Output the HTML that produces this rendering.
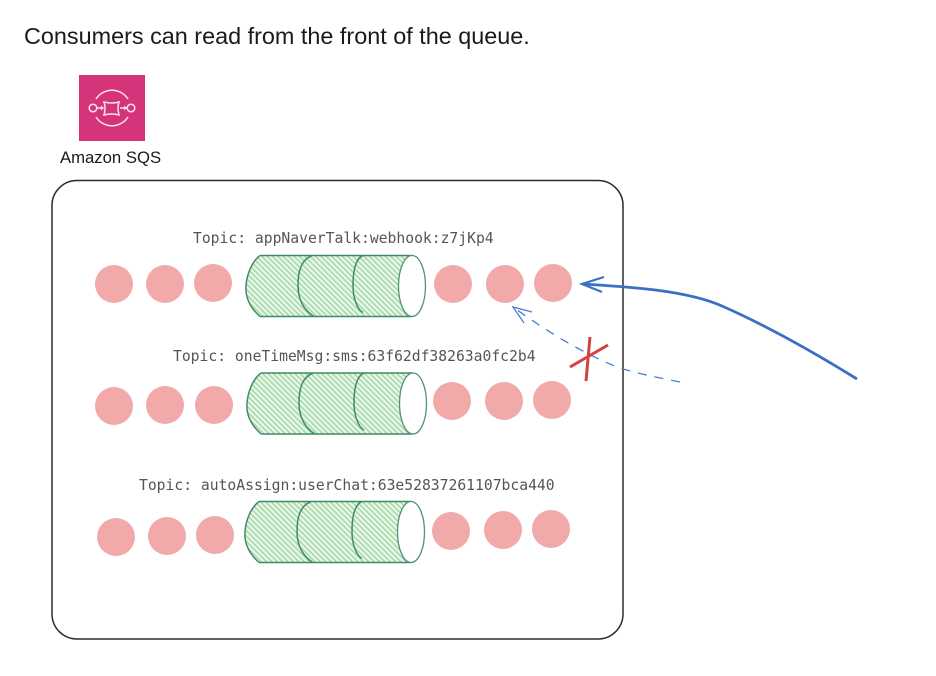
<!DOCTYPE html>
<html><head><meta charset="utf-8"><style>
html,body{margin:0;padding:0;background:#fff}
svg{display:block}
</style></head><body>
<svg width="936" height="676" viewBox="0 0 936 676" xmlns="http://www.w3.org/2000/svg">
<defs>
<pattern id="h" width="3.800" height="3.800" patternUnits="userSpaceOnUse" patternTransform="rotate(45)">
<rect width="3.800" height="3.800" fill="#e9f6e9"/>
<rect width="3.800" height="1.500" fill="#a3d8a6"/>
</pattern>
<g id="cyl">
<path d="M14 0 L166 0 L166 61 L14 61 C4 52 -1 42 0 30 C1 18 6 6 14 0Z" fill="url(#h)"/>
<path d="M14 0 L166 0 M14 61 L166 61 M14 0 C6 6 1 18 0 30 C-1 42 4 52 14 61" fill="none" stroke="#3f8a68" stroke-width="1.500"/>
<path d="M66 0 C56 4 52 14 52 30 C52 44 58 55 68 61" fill="none" stroke="#3f8a68" stroke-width="1.500"/>
<path d="M117 0 C110 3 107 14 107 30 C107 42 111 54 117 57" fill="none" stroke="#3f8a68" stroke-width="1.500"/>
<ellipse cx="166" cy="30.500" rx="13.500" ry="30.500" fill="#fff" stroke="#4f9478" stroke-width="1.300"/>
</g>
</defs>
<rect width="936" height="676" fill="#fff"/>
<text x="24" y="44" font-family="Liberation Sans, sans-serif" font-size="23.400" fill="#1a1a1a">Consumers can read from the front of the queue.</text>
<rect x="79" y="75" width="66" height="66" fill="#d6347a"/>
<g fill="none" stroke="#fbe3ee" stroke-width="1.500">
<path d="M96 99 A19 19 0 0 1 128 99"/>
<path d="M96 117 A19 19 0 0 0 128 117"/>
<circle cx="93" cy="108" r="3.800"/>
<circle cx="131" cy="108" r="3.800"/>
<path d="M104 102 Q112 104 119 102 Q117 108 119 115 Q112 113 104 115 Q106 108 104 102Z"/>
<path d="M97 108H103M120 108H127"/>
</g>
<g fill="#fbe3ee"><path d="M104 108l-3-2.500v5z"/><path d="M127 108l-3-2.500v5z"/></g>
<text x="60" y="163" font-family="Liberation Sans, sans-serif" font-size="16.700" fill="#1a1a1a">Amazon SQS</text>
<rect x="52" y="180.500" width="571" height="458.500" rx="25" fill="none" stroke="#2b2b2b" stroke-width="1.500"/>
<g font-family="DejaVu Sans Mono, Liberation Mono, monospace" font-size="14.700" fill="#555">
<text x="193" y="243">Topic: appNaverTalk:webhook:z7jKp4</text>
<text x="173" y="361">Topic: oneTimeMsg:sms:63f62df38263a0fc2b4</text>
<text x="139" y="490">Topic: autoAssign:userChat:63e52837261107bca440</text>
</g>
<g fill="#f2a9aa">
<circle cx="114" cy="284" r="19"/><circle cx="165" cy="284" r="19"/><circle cx="213" cy="283" r="19"/>
<circle cx="453" cy="284" r="19"/><circle cx="505" cy="284" r="19"/><circle cx="553" cy="283" r="19"/>
<circle cx="114" cy="406" r="19"/><circle cx="165" cy="405" r="19"/><circle cx="214" cy="405" r="19"/>
<circle cx="452" cy="401" r="19"/><circle cx="504" cy="401" r="19"/><circle cx="552" cy="400" r="19"/>
<circle cx="116" cy="537" r="19"/><circle cx="167" cy="536" r="19"/><circle cx="215" cy="535" r="19"/>
<circle cx="451" cy="531" r="19"/><circle cx="503" cy="530" r="19"/><circle cx="551" cy="529" r="19"/>
</g>
<use href="#cyl" x="246" y="255.500"/>
<use href="#cyl" x="247" y="373"/>
<use href="#cyl" x="245" y="501.500"/>
<path d="M582 284 C630 287 685 290 722 306 C765 325 815 353 857 379" fill="none" stroke="#3a70c4" stroke-width="2.800"/>
<path d="M604 277 L582 284 L602 292" fill="none" stroke="#3a70c4" stroke-width="2.200"/>
<path d="M680 382 C655 377 635 373 617 367 C580 352 545 330 513 307" fill="none" stroke="#4a7fcc" stroke-width="1.300" stroke-dasharray="9 8"/>
<path d="M532 312 L513 307 L524 323" fill="none" stroke="#4a7fcc" stroke-width="1.300"/>
<path d="M570 367 L608 345 M590 337 L586 381" fill="none" stroke="#d0433f" stroke-width="3"/>
</svg>
</body></html>
